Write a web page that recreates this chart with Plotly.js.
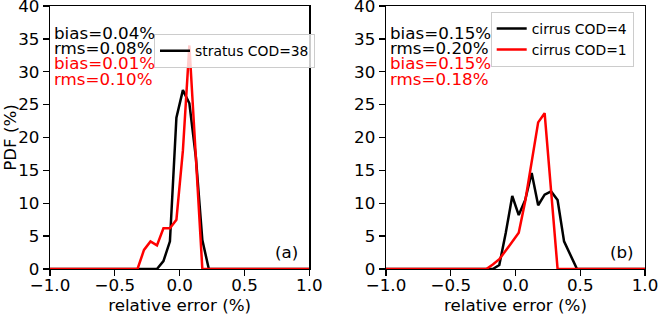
<!DOCTYPE html>
<html>
<head>
<meta charset="utf-8">
<script src="https://cdn.plot.ly/plotly-3.0.1.min.js"></script>
<style>html,body{margin:0;padding:0;background:#fff;overflow:hidden;}#chart{width:658px;height:315px;overflow:hidden;}</style>
</head>
<body>
<div id="chart"></div>
<script>
// Panel (a): stratus
const xStratus = [-1.0, -0.325, -0.275, -0.225, -0.175, -0.125, -0.075, -0.025, 0.025, 0.075, 0.125, 0.175, 0.225, 1.0];
const stratusCOD38 = [0, 0, 0, 0, 0, 1.2, 4.2, 23.0, 27.2, 25.2, 17.0, 4.4, 0, 0];
const stratusRed   = [0, 0, 2.9, 4.2, 3.6, 6.2, 6.2, 7.5, 18.0, 34.0, 17.0, 0, 0, 0];

// Panel (b): cirrus
const xCirrus = [-1.0, -0.225, -0.175, -0.125, -0.075, -0.025, 0.025, 0.075, 0.125, 0.175, 0.225, 0.275, 0.325, 0.375, 0.425, 0.475, 1.0];
const cirrusCOD4 = [0, 0, 0, 0.6, 5.5, 11.1, 8.2, 10.5, 14.6, 9.7, 11.3, 11.8, 10.5, 4.2, 2.1, 0, 0];
const cirrusCOD1 = [0, 0, 0.7, 1.5, 2.8, 4.2, 5.5, 10.3, 16.0, 22.3, 23.7, 11.8, 0, 0, 0, 0, 0];

const xTicks = [-1.0, -0.5, 0.0, 0.5, 1.0];
const yTicks = [0, 5, 10, 15, 20, 25, 30, 35, 40];

const statsA = [
  {text: 'bias=0.04%', color: 'black'},
  {text: 'rms=0.08%', color: 'black'},
  {text: 'bias=0.01%', color: 'red'},
  {text: 'rms=0.10%', color: 'red'}
];
const statsB = [
  {text: 'bias=0.15%', color: 'black'},
  {text: 'rms=0.20%', color: 'black'},
  {text: 'bias=0.15%', color: 'red'},
  {text: 'rms=0.18%', color: 'red'}
];
const panelLabels = ['(a)', '(b)'];

const FONT = 'DejaVu Sans';
const LW = 2.5;

const traces = [
  {x: xStratus, y: stratusCOD38, xaxis: 'x', yaxis: 'y', mode: 'lines', name: 'stratus COD=38',
   line: {color: 'black', width: LW}, legend: 'legend'},
  {x: xStratus, y: stratusRed, xaxis: 'x', yaxis: 'y', mode: 'lines', name: 'stratus',
   line: {color: 'red', width: LW}, showlegend: false},
  {x: xCirrus, y: cirrusCOD4, xaxis: 'x2', yaxis: 'y2', mode: 'lines', name: 'cirrus COD=4',
   line: {color: 'black', width: LW}, legend: 'legend2'},
  {x: xCirrus, y: cirrusCOD1, xaxis: 'x2', yaxis: 'y2', mode: 'lines', name: 'cirrus COD=1',
   line: {color: 'red', width: LW}, legend: 'legend2'}
];

function xAxis(domain, anchor) {
  return {
    domain: domain, anchor: anchor, range: [-1, 1],
    tickvals: xTicks, tickformat: '.1f',
    ticks: 'outside', ticklen: 6, tickwidth: 1.3, tickcolor: 'black',
    ticklabelstandoff: -5, ticklabeloverflow: 'allow',
    showline: true, linecolor: 'black', linewidth: 1.3, mirror: true,
    showgrid: false, zeroline: false,
    tickfont: {family: FONT, size: 16.7, color: 'black'},
    title: {text: 'relative error (%)', font: {family: FONT, size: 16.7, color: 'black'}, standoff: 14}
  };
}
function yAxis(anchor, withTitle) {
  const a = {
    domain: [0, 1], anchor: anchor, range: [0, 40],
    tickvals: yTicks,
    ticks: 'outside', ticklen: 6, tickwidth: 1.3, tickcolor: 'black',
    ticklabeloverflow: 'allow',
    showline: true, linecolor: 'black', linewidth: 1.3, mirror: true,
    showgrid: false, zeroline: false,
    tickfont: {family: FONT, size: 16.7, color: 'black'}
  };
  if (withTitle) a.title = {text: 'PDF (%)', font: {family: FONT, size: 16.7, color: 'black'}, standoff: 7};
  return a;
}

const yCenters = [33.0, 48.2, 63.4, 78.8];
const annotations = [];
function addStats(stats, xref, yref) {
  stats.forEach((s, i) => {
    annotations.push({
      xref: xref, yref: yref, x: 0.006, y: (269 - yCenters[i]) / 263,
      xanchor: 'left', yanchor: 'middle', showarrow: false, text: s.text,
      font: {family: FONT, size: 16.7, color: s.color}
    });
  });
}
addStats(statsA, 'x domain', 'y domain');
addStats(statsB, 'x2 domain', 'y2 domain');
annotations.push({xref: 'x domain', yref: 'y domain', x: 0.966, y: 0.0646, xanchor: 'right', yanchor: 'middle',
  showarrow: false, text: panelLabels[0], font: {family: FONT, size: 16.7, color: 'black'}});
annotations.push({xref: 'x2 domain', yref: 'y2 domain', x: 0.966, y: 0.0646, xanchor: 'right', yanchor: 'middle',
  showarrow: false, text: panelLabels[1], font: {family: FONT, size: 16.7, color: 'black'}});

const legendStyle = {
  bgcolor: 'rgba(255,255,255,0.8)', bordercolor: '#cccccc', borderwidth: 1,
  font: {family: FONT, size: 13.9, color: 'black'}, xref: 'paper', yref: 'paper',
  xanchor: 'left', yanchor: 'top', itemwidth: 30, tracegroupgap: 0
};

// Figure is drawn 680 px wide and the page window (658 px) crops the right side,
// so the panel (b) "1.0" tick label is cut at the edge as in the reference.
const layout = {
  width: 680, height: 315,
  margin: {l: 50, r: 35, t: 6, b: 46},
  paper_bgcolor: 'white', plot_bgcolor: 'white',
  font: {family: FONT, color: 'black'},
  showlegend: true,
  xaxis: xAxis([0, 0.4358], 'y'),
  yaxis: yAxis('x', true),
  xaxis2: xAxis([0.5647, 1], 'y2'),
  yaxis2: yAxis('x2', false),
  legend: Object.assign({}, legendStyle, {x: (154 - 50) / 595, y: (269 - 34.3) / 263 }),
  legend2: Object.assign({}, legendStyle, {x: (490.7 - 50) / 595, y: (269 - 12) / 263 }),
  annotations: annotations
};

Plotly.newPlot('chart', traces, layout, {staticPlot: true, displayModeBar: false});
</script>
</body>
</html>
